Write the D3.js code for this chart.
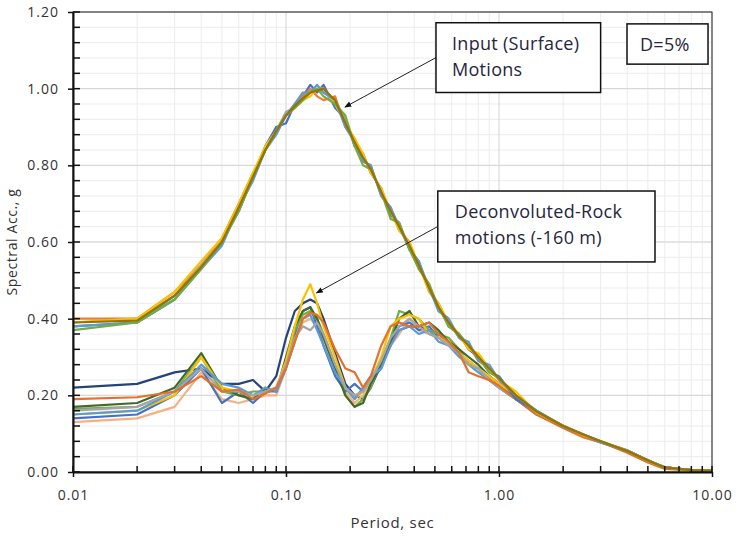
<!DOCTYPE html>
<html>
<head>
<meta charset="utf-8">
<script src="https://cdn.jsdelivr.net/npm/d3@7/dist/d3.min.js"></script>
<style>
  body { margin: 0; background: #fff; }
  svg { display: block; font-family: "Open Sans", sans-serif; }
</style>
</head>
<body>
<div id="chart"></div>
<script>
//--------------------------- data
const periods = [0.01,0.02,0.03,0.04,0.05,0.06,0.07,0.08,0.09,0.10,0.11,0.12,0.13,0.14,0.15,0.17,0.19,0.21,0.23,0.25,0.28,0.31,0.34,0.38,0.42,0.47,0.52,0.58,0.65,0.72,0.80,0.90,1.0,1.2,1.5,2.0,2.5,3.0,4.0,5.0,6.0,8.0,10.0]

// input (surface) motions
const inBlue   = [0.38,0.39,0.45,0.53,0.60,0.68,0.77,0.85,0.90,0.91,0.96,0.98,1.01,0.99,1.01,0.95,0.92,0.85,0.83,0.78,0.74,0.67,0.65,0.58,0.55,0.47,0.44,0.38,0.36,0.32,0.30,0.26,0.25,0.19,0.16,0.12,0.096,0.079,0.054,0.03,0.011,0.005,0.003]
const inOrange = [0.40,0.40,0.47,0.54,0.61,0.70,0.78,0.84,0.89,0.93,0.96,0.98,1.00,0.98,0.97,0.98,0.90,0.87,0.81,0.80,0.72,0.69,0.63,0.60,0.53,0.49,0.42,0.40,0.35,0.33,0.29,0.27,0.24,0.20,0.157,0.121,0.098,0.08,0.056,0.031,0.012,0.005,0.003]
const inGray   = [0.39,0.40,0.46,0.54,0.60,0.69,0.77,0.84,0.89,0.94,0.95,0.97,0.99,1.00,0.99,0.97,0.92,0.86,0.82,0.79,0.73,0.68,0.64,0.59,0.54,0.48,0.43,0.39,0.35,0.33,0.30,0.27,0.245,0.20,0.158,0.12,0.097,0.08,0.055,0.03,0.012,0.005,0.003]
const inYellow = [0.39,0.40,0.47,0.55,0.61,0.70,0.78,0.85,0.89,0.93,0.95,0.97,0.98,1.00,1.00,0.96,0.91,0.87,0.83,0.78,0.74,0.68,0.63,0.60,0.54,0.47,0.44,0.39,0.36,0.32,0.31,0.27,0.24,0.21,0.155,0.12,0.095,0.081,0.055,0.029,0.012,0.005,0.003]
const inLtBlue = [0.38,0.39,0.46,0.53,0.59,0.69,0.76,0.84,0.88,0.93,0.96,0.99,0.99,1.01,0.99,0.97,0.90,0.86,0.81,0.80,0.72,0.69,0.64,0.58,0.55,0.48,0.42,0.40,0.35,0.34,0.29,0.28,0.24,0.20,0.16,0.118,0.098,0.078,0.056,0.03,0.013,0.005,0.003]
const inGreen  = [0.37,0.39,0.45,0.53,0.60,0.68,0.77,0.84,0.89,0.93,0.95,0.97,0.99,1.00,0.98,0.96,0.93,0.85,0.80,0.79,0.73,0.66,0.65,0.58,0.53,0.49,0.43,0.38,0.36,0.33,0.30,0.26,0.245,0.20,0.157,0.12,0.097,0.08,0.054,0.03,0.012,0.005,0.003]
const inOlive  = [0.39,0.395,0.46,0.535,0.60,0.69,0.77,0.84,0.89,0.93,0.955,0.975,0.99,0.995,1.00,0.97,0.91,0.86,0.82,0.79,0.73,0.68,0.64,0.59,0.54,0.48,0.43,0.39,0.355,0.33,0.30,0.27,0.245,0.20,0.158,0.12,0.097,0.08,0.055,0.03,0.012,0.005,0.003]

// deconvoluted rock motions (-160 m)
const dcNavy    = [0.22,0.23,0.26,0.27,0.23,0.23,0.24,0.21,0.25,0.35,0.42,0.44,0.45,0.44,0.40,0.31,0.23,0.20,0.19,0.22,0.28,0.33,0.37,0.38,0.38,0.37,0.36,0.34,0.31,0.29,0.27,0.25,0.23,0.195,0.155,0.12,0.094,0.078,0.056,0.03,0.012,0.005,0.003]
const dcPeach   = [0.13,0.14,0.17,0.26,0.19,0.18,0.19,0.20,0.20,0.27,0.35,0.39,0.40,0.38,0.35,0.27,0.21,0.18,0.20,0.23,0.28,0.33,0.36,0.40,0.37,0.36,0.35,0.33,0.31,0.29,0.27,0.25,0.23,0.195,0.155,0.12,0.095,0.079,0.057,0.03,0.012,0.005,0.003]
const dcBlue    = [0.14,0.15,0.20,0.27,0.18,0.21,0.18,0.21,0.21,0.28,0.36,0.42,0.43,0.38,0.33,0.25,0.21,0.23,0.21,0.24,0.27,0.34,0.38,0.39,0.37,0.38,0.35,0.34,0.31,0.28,0.27,0.24,0.22,0.19,0.15,0.118,0.094,0.077,0.055,0.03,0.011,0.005,0.003]
const dcGreen   = [0.165,0.17,0.21,0.30,0.21,0.20,0.21,0.21,0.22,0.28,0.37,0.41,0.42,0.40,0.36,0.28,0.20,0.17,0.19,0.22,0.29,0.35,0.42,0.41,0.40,0.37,0.36,0.35,0.32,0.28,0.27,0.24,0.22,0.19,0.155,0.12,0.095,0.078,0.056,0.03,0.012,0.005,0.003]
const dcDkGreen = [0.17,0.18,0.22,0.31,0.22,0.20,0.19,0.22,0.21,0.30,0.38,0.42,0.43,0.40,0.35,0.27,0.20,0.17,0.18,0.23,0.28,0.34,0.40,0.42,0.38,0.39,0.37,0.34,0.32,0.30,0.28,0.25,0.23,0.195,0.155,0.12,0.094,0.079,0.055,0.03,0.012,0.005,0.003]
const dcYellow  = [0.15,0.16,0.20,0.30,0.22,0.21,0.20,0.21,0.22,0.29,0.38,0.45,0.49,0.44,0.38,0.30,0.22,0.19,0.21,0.24,0.30,0.38,0.40,0.41,0.40,0.36,0.35,0.34,0.31,0.29,0.27,0.25,0.23,0.20,0.16,0.12,0.096,0.08,0.056,0.03,0.012,0.005,0.003]
const dcLtBlue  = [0.15,0.16,0.21,0.28,0.23,0.22,0.20,0.22,0.21,0.27,0.34,0.40,0.41,0.37,0.33,0.26,0.22,0.19,0.22,0.25,0.27,0.33,0.37,0.38,0.36,0.37,0.34,0.33,0.30,0.28,0.26,0.24,0.22,0.19,0.155,0.118,0.093,0.077,0.055,0.03,0.011,0.005,0.003]
const dcGray    = [0.16,0.17,0.21,0.27,0.21,0.21,0.20,0.21,0.22,0.28,0.35,0.38,0.37,0.39,0.36,0.28,0.22,0.20,0.21,0.24,0.29,0.35,0.38,0.40,0.38,0.36,0.35,0.33,0.31,0.28,0.27,0.24,0.22,0.19,0.155,0.12,0.095,0.078,0.056,0.03,0.012,0.005,0.003]
const dcOrange  = [0.19,0.195,0.21,0.25,0.21,0.215,0.19,0.205,0.22,0.27,0.34,0.40,0.415,0.41,0.39,0.32,0.27,0.26,0.22,0.25,0.33,0.38,0.39,0.38,0.38,0.39,0.36,0.34,0.31,0.26,0.25,0.24,0.225,0.19,0.15,0.115,0.09,0.078,0.05,0.025,0.008,0.004,0.003]

const inputLines  = [inBlue, inOrange, inGray, inYellow, inLtBlue, inGreen, inOlive]
const inputColors = ["#4472C4","#ED7D31","#A5A5A5","#FFC000","#5B9BD5","#70AD47","#997300"]
const rockLines   = [dcNavy, dcPeach, dcBlue, dcGreen, dcDkGreen, dcYellow, dcLtBlue, dcGray, dcOrange]
const rockColors  = ["#264478","#F4B183","#4472C4","#70AD47","#43682B","#FFC000","#5B9BD5","#A5A5A5","#E2712C"]

const xMajor = [0.01, 0.1, 1, 10]
const yMajor = [0, 0.2, 0.4, 0.6, 0.8, 1.0, 1.2]

//--------------------------- dimensions
const dims = {
    width: 736,
    height: 537,
    margin: { top: 12, right: 24, bottom: 65, left: 73 }
}
dims.boundedWidth = dims.width - dims.margin.left - dims.margin.right
dims.boundedHeight = dims.height - dims.margin.top - dims.margin.bottom

const svg = d3.select("#chart").append("svg")
    .attr("width", dims.width)
    .attr("height", dims.height)

const bounds = svg.append("g")
    .attr("transform", `translate(${dims.margin.left},${dims.margin.top})`)

//--------------------------- scales
const xScale = d3.scaleLog()
    .domain([0.01, 10])
    .range([0, dims.boundedWidth])

const yScale = d3.scaleLinear()
    .domain([0, 1.2])
    .range([dims.boundedHeight, 0])

// minor ticks
const xMinor = []
xMajor.slice(0, -1).forEach(d => { for (let k = 2; k <= 9; k++) xMinor.push(d * k) })
const yMinor = d3.range(0, 1.2001, 0.04).map(v => +v.toFixed(2))

//--------------------------- grid
const grid = bounds.append("g")
grid.selectAll(".ygrid").data(yMinor).join("line")
    .attr("x1", 0).attr("x2", dims.boundedWidth)
    .attr("y1", d => yScale(d)).attr("y2", d => yScale(d))
    .attr("stroke", "#ececec").attr("stroke-width", 1)
grid.selectAll(".xgrid").data(xMinor).join("line")
    .attr("x1", d => xScale(d)).attr("x2", d => xScale(d))
    .attr("y1", 0).attr("y2", dims.boundedHeight)
    .attr("stroke", "#ececec").attr("stroke-width", 1)
grid.selectAll(".ymaj").data(yMajor).join("line")
    .attr("x1", 0).attr("x2", dims.boundedWidth)
    .attr("y1", d => yScale(d)).attr("y2", d => yScale(d))
    .attr("stroke", "#d4d4d4").attr("stroke-width", 1)
grid.selectAll(".xmaj").data(xMajor).join("line")
    .attr("x1", d => xScale(d)).attr("x2", d => xScale(d))
    .attr("y1", 0).attr("y2", dims.boundedHeight)
    .attr("stroke", "#d4d4d4").attr("stroke-width", 1)

//--------------------------- lines
const lineGen = d3.line()
    .x((d, i) => xScale(periods[i]))
    .y(d => yScale(d))

bounds.append("g").selectAll("path")
    .data(rockLines)
    .join("path")
    .attr("d", d => lineGen(d))
    .attr("fill", "none")
    .attr("stroke", (d, i) => rockColors[i])
    .attr("stroke-width", 2.2)
    .attr("stroke-linejoin", "round")

bounds.append("g").selectAll("path")
    .data(inputLines)
    .join("path")
    .attr("d", d => lineGen(d))
    .attr("fill", "none")
    .attr("stroke", (d, i) => inputColors[i])
    .attr("stroke-width", 2.2)
    .attr("stroke-linejoin", "round")

//--------------------------- frame + axes
bounds.append("rect")
    .attr("width", dims.boundedWidth).attr("height", dims.boundedHeight)
    .attr("fill", "none").attr("stroke", "#222").attr("stroke-width", 1)

const xAxis = bounds.append("g")
    .attr("transform", `translate(0,${dims.boundedHeight})`)
    .call(d3.axisBottom(xScale).tickValues(xMajor).tickFormat(d3.format(".2f")).tickSizeInner(5).tickSizeOuter(0).tickPadding(13))
xAxis.append("g").selectAll("line").data(xMajor.concat(xMinor)).join("line")
    .attr("x1", d => xScale(d)).attr("x2", d => xScale(d))
    .attr("y1", 0).attr("y2", -6).attr("stroke", "#111").attr("stroke-width", 1.5)

const yAxis = bounds.append("g")
    .call(d3.axisLeft(yScale).tickValues(yMajor).tickFormat(d3.format(".2f")).tickSizeInner(5).tickSizeOuter(0).tickPadding(9))
yAxis.append("g").selectAll("line").data(yMinor).join("line")
    .attr("x1", 0).attr("x2", 7)
    .attr("y1", d => yScale(d)).attr("y2", d => yScale(d))
    .attr("stroke", "#111").attr("stroke-width", 1.5)

;[xAxis, yAxis].forEach(ax => {
    ax.select(".domain").attr("stroke", "#111").attr("stroke-width", 2)
    ax.selectAll(".tick line").attr("stroke", "#111").attr("stroke-width", 1.5)
    ax.selectAll(".tick text").attr("fill", "#333").style("font-size", "14px")
        .style("letter-spacing", "1px")
        .style("font-family", "'Open Sans', sans-serif")
})

svg.append("text")
    .attr("x", dims.margin.left + dims.boundedWidth * 0.5)
    .attr("y", 528)
    .attr("text-anchor", "middle")
    .attr("fill", "#333").style("font-size", "15px").style("letter-spacing", "0.7px")
    .text("Period, sec")

svg.append("text")
    .attr("transform", `translate(17,${dims.margin.top + yScale(0.6)}) rotate(-90)`)
    .attr("text-anchor", "middle")
    .attr("fill", "#333").style("font-size", "14px").style("letter-spacing", "0.6px")
    .text("Spectral Acc., g")

//--------------------------- annotations
svg.append("defs").append("marker")
    .attr("id", "arrow").attr("viewBox", "0 0 10 10")
    .attr("refX", 9).attr("refY", 5)
    .attr("markerWidth", 7).attr("markerHeight", 7)
    .attr("orient", "auto")
    .append("path").attr("d", "M0,1 L10,5 L0,9 z").attr("fill", "#111")

const notes = [
    { x0: 0.506, x1: 3.0, y0: 1.172, y1: 0.99, lines: ["Input (Surface)", "Motions"], ax: 0.189, ay: 0.952, pad: 16 },
    { x0: 3.99, x1: 9.58, y0: 1.169, y1: 1.064, lines: ["D=5%"], pad: 13 },
    { x0: 0.516, x1: 5.4, y0: 0.733, y1: 0.548, lines: ["Deconvoluted-Rock", "motions (-160 m)"], ax: 0.139, ay: 0.467, pad: 17 }
]

notes.forEach(n => {
    const g = bounds.append("g")
    const bx = xScale(n.x0), by = yScale(n.y0)
    const bw = xScale(n.x1) - bx, bh = yScale(n.y1) - by
    if (n.ax) {
        g.append("line")
            .attr("x1", bx).attr("y1", by + bh * 0.5)
            .attr("x2", xScale(n.ax)).attr("y2", yScale(n.ay))
            .attr("stroke", "#222").attr("stroke-width", 1)
            .attr("marker-end", "url(#arrow)")
    }
    g.append("rect")
        .attr("x", bx).attr("y", by).attr("width", bw).attr("height", bh)
        .attr("fill", "#fff").attr("stroke", "#111").attr("stroke-width", 1.5)
    n.lines.forEach((t, i) => {
        g.append("text")
            .attr("x", bx + n.pad).attr("y", by + 27 + i * 26)
            .attr("fill", "#262640").style("font-size", "18px").style("letter-spacing", "0.3px")
            .text(t)
    })
})
</script>
</body>
</html>
